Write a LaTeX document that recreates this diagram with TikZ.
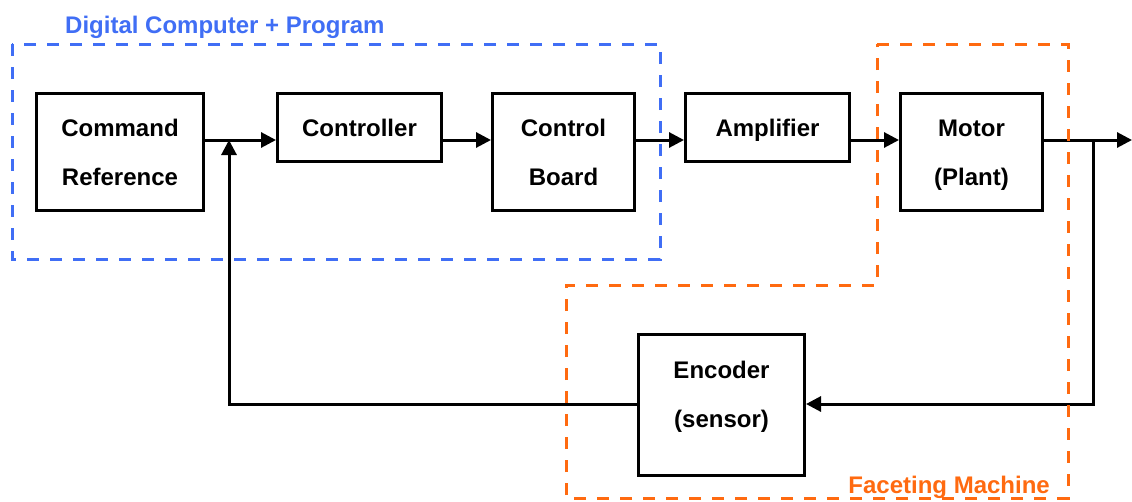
\documentclass[tikz,border=0pt]{standalone}
\usepackage{fontspec}
\setmainfont{Liberation Sans}
\usetikzlibrary{arrows.meta}
\definecolor{pcblue}{RGB}{64,110,245}
\definecolor{fmorange}{RGB}{255,106,16}
\tikzset{
  blk/.style={draw=black, line width=3pt, fill=white, inner sep=0pt,
    align=center, font=\fontsize{24}{49}\selectfont\bfseries},
  oneline/.style={text height=20pt, text depth=2.8pt},
  txt/.style={inner sep=0pt, align=center, font=\fontsize{24}{49}\selectfont\bfseries},
  arr/.style={line width=3pt, -{Triangle[length=15pt,width=15pt]}},
  grp/.style={line width=3pt, dash pattern=on 12pt off 11pt},
  grptitle/.style={inner sep=0pt, font=\fontsize{24}{28}\selectfont\bfseries}
}
\begin{document}
\begin{tikzpicture}[x=1pt,y=-1pt]
\useasboundingbox (0,0) rectangle (1132,501);

% blocks
\node[blk, minimum width=167pt, minimum height=117pt] (cmd) at (120,152) {Command\\Reference};
\node[blk, oneline, minimum width=164pt, minimum height=68pt] (ctl) at (359.5,127.5) {Controller};
\node[blk, minimum width=142pt, minimum height=117pt] (brd) at (563.5,152) {Control\\Board};
\node[blk, oneline, minimum width=164pt, minimum height=68pt] (amp) at (767.5,127.5) {Amplifier};
\node[blk, minimum width=142pt, minimum height=117pt] (mot) at (971.5,152) {};
\node[txt] (mottext) at (971.5,155) {Motor\\(Plant)};
\node[blk, minimum width=166pt, minimum height=141pt] (enc) at (721.5,405) {};
\node[txt] (enctext) at (721.5,396.5) {Encoder\\(sensor)};

% signal path
\coordinate (ml) at (0,140);
\coordinate (fb) at (0,404);
\coordinate (out) at (1132,140);
\coordinate (tap) at (1093,140);
\coordinate (sum) at (229,140);
\draw[arr] (cmd.east |- ml) -- (ctl.west |- ml);
\draw[arr] (ctl.east |- ml) -- (brd.west |- ml);
\draw[arr] (brd.east |- ml) -- (amp.west |- ml);
\draw[arr] (amp.east |- ml) -- (mot.west |- ml);
\draw[arr] (mot.east |- ml) -- (out);

% feedback loop
\draw[arr] (tap) -- (tap |- fb) -- (enc.east |- fb);
\draw[arr] (enc.west |- fb) -- (sum |- fb) -- (sum);

% dashed group outlines, on top of the wiring
\draw[grp, pcblue] (12,44) rectangle (660,259);
\draw[grp, fmorange] (877,44) -- (1068,44) -- (1068,498) -- (566,498) -- (566,285) -- (877,285) -- cycle;
\node[grptitle, text=pcblue, anchor=base west] (tpc) at (65,33) {Digital Computer + Program};
\node[grptitle, text=fmorange, anchor=base east] (tfm) at (1050,493) {Faceting Machine};
\end{tikzpicture}
\end{document}
